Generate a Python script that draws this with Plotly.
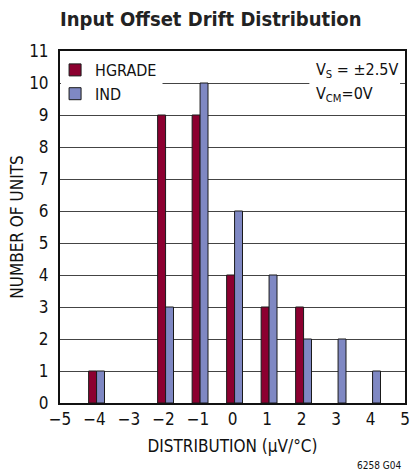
import plotly.graph_objects as go

# Data
categories = [-4, -3, -2, -1, 0, 1, 2, 3, 4]
hgrade = [1, 0, 9, 9, 4, 3, 3, 0, 0]
ind = [1, 0, 3, 10, 6, 4, 2, 2, 1]
series_names = ["HGRADE", "IND"]
x_ticks = [-5, -4, -3, -2, -1, 0, 1, 2, 3, 4, 5]
y_ticks = list(range(0, 12))

FONT = "Liberation Sans Narrow, DejaVu Sans Condensed, Arial Narrow, sans-serif"
W, H = 417, 473
L, R, T, B = 60, 7, 51, 70
PW, PH = W - L - R, H - T - B

def px_x(p):
    return (p - L) / PW

def px_y(p):
    return (H - B - p) / PH

def nz(cats, vals):
    xs, ys = [], []
    for c, v in zip(cats, vals):
        if v > 0:
            xs.append(c)
            ys.append(v)
    return xs, ys

fig = go.Figure()
hx, hy = nz(categories, hgrade)
ix, iy = nz(categories, ind)
fig.add_trace(go.Bar(x=hx, y=hy, name=series_names[0], width=0.23, offset=-0.17,
                     marker=dict(color="#8C0030", line=dict(color="#1a1a1a", width=1))))
fig.add_trace(go.Bar(x=ix, y=iy, name=series_names[1], width=0.23, offset=0.06,
                     marker=dict(color="#7F88C3", line=dict(color="#1a1a1a", width=1))))

shapes = [
    dict(type="rect", xref="paper", yref="paper", x0=px_x(61), x1=px_x(164),
         y0=px_y(101), y1=px_y(52), fillcolor="white", line=dict(width=0), layer="above"),
    dict(type="rect", xref="paper", yref="paper", x0=px_x(313), x1=px_x(405),
         y0=px_y(101), y1=px_y(52), fillcolor="white", line=dict(width=0), layer="above"),
]

annotations = [
    dict(xref="paper", yref="paper", x=px_x(318), y=px_y(71), xanchor="left", yanchor="middle",
         text="V<sub>S</sub> = ±2.5V", showarrow=False, font=dict(family=FONT, size=16, color="#111")),
    dict(xref="paper", yref="paper", x=px_x(318), y=px_y(94), xanchor="left", yanchor="middle",
         text="V<sub>CM</sub>=0V", showarrow=False, font=dict(family=FONT, size=16, color="#111")),
    dict(xref="paper", yref="paper", x=px_x(408), y=px_y(465), xanchor="right", yanchor="middle",
         text="6258 G04", showarrow=False, font=dict(family=FONT, size=10, color="#111")),
]

fig.update_layout(
    width=W, height=H,
    margin=dict(l=L, r=R, t=T, b=B),
    paper_bgcolor="white", plot_bgcolor="white",
    barmode="overlay",
    title=dict(text="<b>Input Offset Drift Distribution</b>", x=60 / W, xanchor="left",
               y=1 - 19 / H, yanchor="middle",
               font=dict(family=FONT, size=20, color="#222")),
    font=dict(family=FONT, size=16, color="#111"),
    legend=dict(x=px_x(55), y=px_y(53), xanchor="left", yanchor="top",
                bgcolor="rgba(0,0,0,0)", font=dict(family=FONT, size=16, color="#111"),
                itemwidth=30, tracegroupgap=0),
    shapes=shapes,
    annotations=annotations,
    xaxis=dict(range=[-5, 5], tickvals=x_ticks, showgrid=False, zeroline=False,
               showline=True, linecolor="#111", linewidth=2, mirror=True,
               ticks="", tickfont=dict(family=FONT, size=17),
               title=dict(text="DISTRIBUTION (µV/°C)", font=dict(family=FONT, size=17), standoff=12)),
    yaxis=dict(range=[0, 11], tickvals=y_ticks, showgrid=True, gridcolor="#444", gridwidth=1,
               zeroline=False, showline=True, linecolor="#111", linewidth=2, mirror=True,
               ticks="", tickfont=dict(family=FONT, size=17), ticklabelstandoff=6,
               title=dict(text="NUMBER OF UNITS", font=dict(family=FONT, size=17), standoff=1)),
)

fig.write_html("out.html", config={"displayModeBar": False},
               post_script="document.body.style.margin='0';document.body.style.overflow='hidden';")
